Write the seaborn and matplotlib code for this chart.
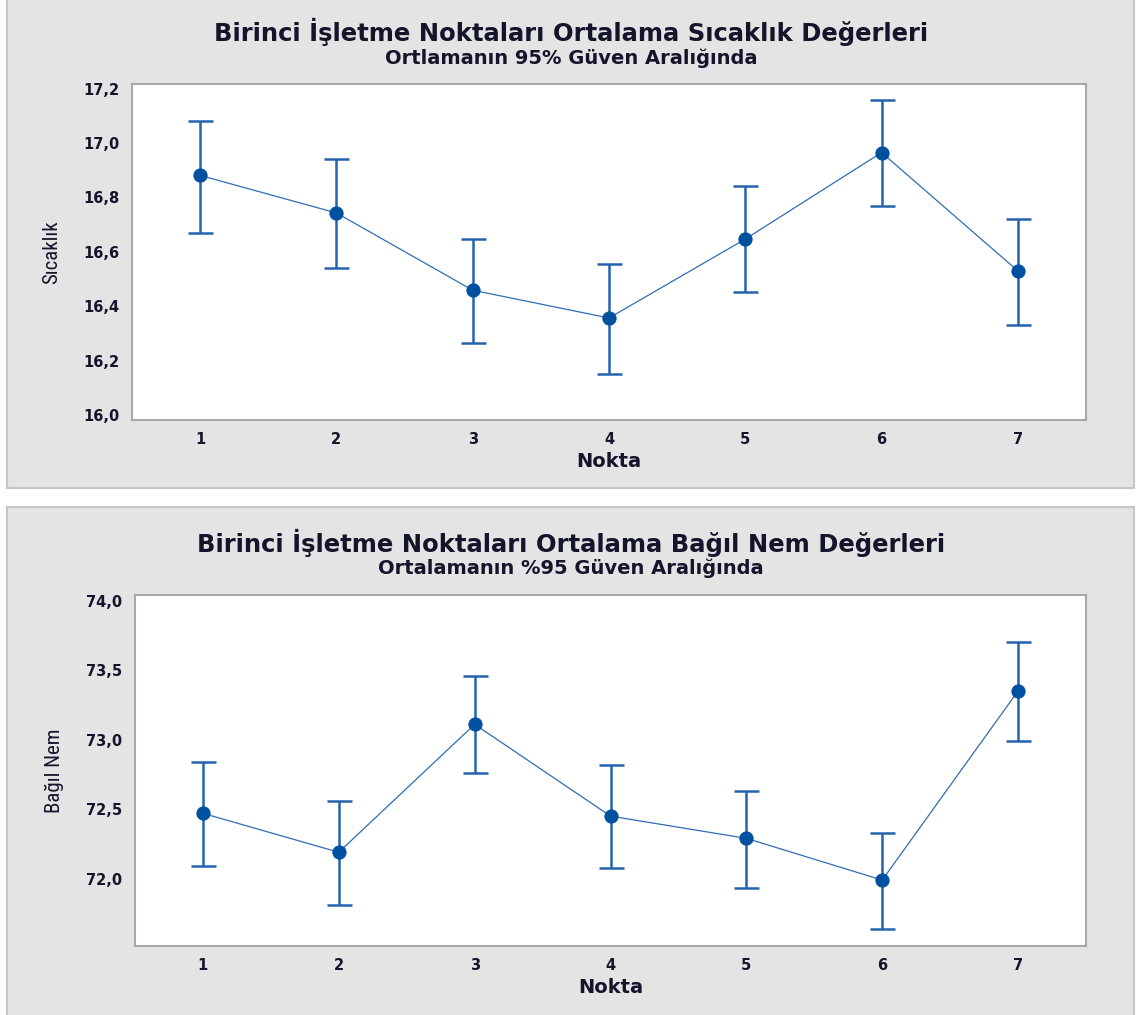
import matplotlib
matplotlib.use("Agg")
import matplotlib.pyplot as plt
from matplotlib.patches import Rectangle
from matplotlib.ticker import FuncFormatter
from matplotlib import font_manager
import seaborn as sns
import pandas as pd

# ---- data ----
nokta = [1, 2, 3, 4, 5, 6, 7]

sicaklik_mean = [16.881, 16.743, 16.459, 16.357, 16.647, 16.965, 16.530]
sicaklik_low = [16.669, 16.539, 16.264, 16.150, 16.451, 16.768, 16.333]
sicaklik_high = [17.082, 16.942, 16.649, 16.557, 16.842, 17.157, 16.721]

nem_mean = [72.47, 72.19, 73.11, 72.45, 72.29, 71.99, 73.35]
nem_low = [72.09, 71.81, 72.76, 72.08, 71.93, 71.64, 72.99]
nem_high = [72.84, 72.56, 73.46, 72.82, 72.63, 72.33, 73.70]

title1 = "Birinci İşletme Noktaları Ortalama Sıcaklık Değerleri"
subtitle1 = "Ortlamanın 95% Güven Aralığında"
title2 = "Birinci İşletme Noktaları Ortalama Bağıl Nem Değerleri"
subtitle2 = "Ortalamanın %95 Güven Aralığında"
xlabel = "Nokta"
ylabel1 = "Sıcaklık"
ylabel2 = "Bağıl Nem"
yticks1 = [16.0, 16.2, 16.4, 16.6, 16.8, 17.0, 17.2]
yticks2 = [72.0, 72.5, 73.0, 73.5, 74.0]

sns.set_theme(style="white")
plt.rcParams['font.family'] = ['DejaVu Sans']

# condensed font for the y labels if one is installed
names = {f.name for f in font_manager.fontManager.ttflist}
cond_family = 'DejaVu Sans'
cond_stretch = 'condensed'
for cand in ['Liberation Sans Narrow', 'Roboto Condensed', 'Open Sans Condensed',
             'Noto Sans Condensed', 'DejaVu Sans Condensed']:
    if cand in names:
        cond_family = cand
        break

W, H = 1139, 1015
fig = plt.figure(figsize=(W / 100, H / 100), dpi=100)
fig.patch.set_facecolor("white")

panel_bg = "#e4e4e4"
panel_edge = "#c6c6c6"
fig.add_artist(Rectangle((7 / W, 1 - 488 / H), 1127 / W, 488 / H + 0.01,
                         transform=fig.transFigure, facecolor=panel_bg,
                         edgecolor=panel_edge, lw=1.5, zorder=-10))
fig.add_artist(Rectangle((7 / W, -0.01), 1127 / W, 1 - 507 / H + 0.01,
                         transform=fig.transFigure, facecolor=panel_bg,
                         edgecolor=panel_edge, lw=1.5, zorder=-10))

txt = "#14142a"
line_col = "#2f6db5"
err_col = "#2563ad"
mark_col = "#0050a0"


def comma_fmt(v, pos):
    return f"{v:.1f}".replace(".", ",")


def draw(ax, mean, low, high, yticks, ylim, ylabel):
    df = pd.DataFrame({"Nokta": nokta, "Deger": mean})
    ax.set_facecolor("white")
    yerr = [[m - l for m, l in zip(mean, low)], [h - m for m, h in zip(mean, high)]]
    ax.errorbar(nokta, mean, yerr=yerr, fmt="none", ecolor=err_col,
                elinewidth=1.8, capsize=9, capthick=1.8, zorder=2)
    sns.lineplot(data=df, x="Nokta", y="Deger", ax=ax, color=line_col,
                 lw=0.9, marker="o", markersize=9.5, markerfacecolor=mark_col,
                 markeredgecolor=mark_col, zorder=3)
    ax.set_xlim(0.5, 7.5)
    ax.set_ylim(*ylim)
    ax.set_xticks(nokta)
    ax.set_xticklabels([str(n) for n in nokta])
    ax.set_yticks(yticks)
    ax.yaxis.set_major_formatter(FuncFormatter(comma_fmt))
    for s in ax.spines.values():
        s.set_color("#a8a8a8")
        s.set_linewidth(1.5)
    ax.tick_params(axis="both", which="major", direction="out", length=4,
                   width=1, color="#a8a8a8", labelsize=10.5, labelcolor=txt, pad=5)
    for lab in ax.get_xticklabels() + ax.get_yticklabels():
        lab.set_fontweight("bold")
    ax.set_xlabel(xlabel, fontsize=14, fontweight="bold", color=txt, labelpad=3)
    ax.set_ylabel(ylabel, fontsize=15, color=txt, labelpad=16,
                  family=cond_family, fontstretch=cond_stretch)


ax1 = fig.add_axes([132 / W, 1 - 420 / H, (1086 - 132) / W, (420 - 84) / H])
draw(ax1, sicaklik_mean, sicaklik_low, sicaklik_high, yticks1, (15.982, 17.217), ylabel1)

ax2 = fig.add_axes([135 / W, 1 - 946 / H, (1086 - 135) / W, (946 - 595) / H])
draw(ax2, nem_mean, nem_low, nem_high, yticks2, (71.516, 74.04), ylabel2)

fig.text(571 / W, 1 - 32 / H, title1, ha="center", va="center", fontsize=17.5,
         fontweight="bold", color=txt)
fig.text(571 / W, 1 - 58 / H, subtitle1, ha="center", va="center", fontsize=14,
         fontweight="bold", color=txt)
fig.text(571 / W, 1 - 543 / H, title2, ha="center", va="center", fontsize=17.5,
         fontweight="bold", color=txt)
fig.text(571 / W, 1 - 568 / H, subtitle2, ha="center", va="center", fontsize=14,
         fontweight="bold", color=txt)

fig.savefig("out.png", dpi=100, facecolor="white")
